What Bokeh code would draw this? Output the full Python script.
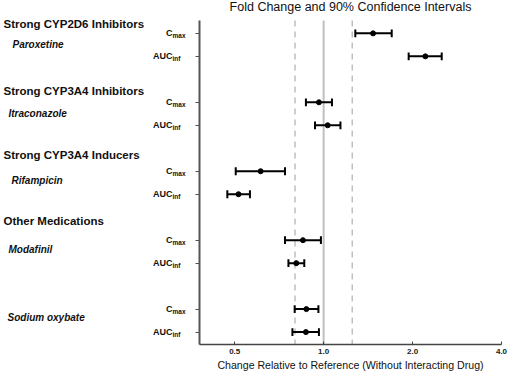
from bokeh.plotting import figure
from bokeh.layouts import row
from bokeh.models import Range1d, FixedTicker, ColumnDataSource
from bokeh.core.properties import value
from bokeh.embed import file_html
from bokeh.resources import INLINE

# ---- data ----
title = "Fold Change and 90% Confidence Intervals"
x_label = "Change Relative to Reference (Without Interacting Drug)"
groups = ["Strong CYP2D6 Inhibitors", "Strong CYP3A4 Inhibitors",
          "Strong CYP3A4 Inducers", "Other Medications"]
group_drugs = [["Paroxetine"], ["Itraconazole"], ["Rifampicin"],
               ["Modafinil", "Sodium oxybate"]]
param_main = ["C", "AUC"]
param_sub = ["max", "inf"]
ratio = [1.47, 2.21, 0.964, 1.032, 0.612, 0.515, 0.851, 0.808, 0.874, 0.871]
ci_low = [1.28, 1.94, 0.871, 0.935, 0.504, 0.472, 0.740, 0.760, 0.798, 0.784]
ci_high = [1.70, 2.51, 1.067, 1.140, 0.740, 0.563, 0.979, 0.860, 0.960, 0.964]
x_ticks = [0.5, 1.0, 2.0, 4.0]
x_tick_labels = ["0.5", "1.0", "2.0", "4.0"]
reference_line = 1.0
bounds = [0.8, 1.25]

FONT = "Liberation Sans"
TXT = "#111111"

# row positions: two rows per drug, one blank row between drugs
drugs = [d for g in group_drugs for d in g]
rows = []
for i, d in enumerate(drugs):
    rows += [i * 3, i * 3 + 1]

# ---------------- main plot ----------------
W_LEFT = 189
H = 375
TOP, BOTTOM = 20, 31            # axis area starts 20px below the top
y0, y1 = -0.56, 13.54           # row-unit extent of the drawn axis
ppu = (H - TOP - BOTTOM) / (y1 - y0)
y_top_ext = y0 - TOP / ppu      # frame reaches the top so the title fits
x_lo, x_hi = 0.38, 4.0

p = figure(width=510 - W_LEFT, height=H, output_backend="svg",
           toolbar_location=None, x_axis_type="log",
           x_range=Range1d(x_lo, x_hi), y_range=Range1d(y1, y_top_ext),
           min_border_left=10, min_border_right=9, min_border_top=0,
           min_border_bottom=BOTTOM)
p.frame_align = False
p.outline_line_color = None
p.xgrid.visible = False
p.ygrid.visible = False

p.xaxis.ticker = FixedTicker(ticks=x_ticks)
p.xaxis.major_label_overrides = {t: l for t, l in zip(x_ticks, x_tick_labels)}
p.xaxis.major_label_text_font = FONT
p.xaxis.major_label_text_font_style = "bold"
p.xaxis.major_label_text_font_size = "8px"
p.xaxis.major_label_text_color = "#222222"
p.xaxis.major_label_standoff = 4
p.xaxis.axis_label = x_label
p.xaxis.axis_label_text_font = FONT
p.xaxis.axis_label_text_font_style = "normal"
p.xaxis.axis_label_text_font_size = "10.6px"
p.xaxis.axis_label_text_color = TXT
p.xaxis.axis_label_standoff = 2
p.xaxis.axis_line_color = "#444444"
p.xaxis.axis_line_width = 1.5
p.xaxis.major_tick_line_color = "#444444"
p.xaxis.major_tick_in = 3
p.xaxis.major_tick_out = 0
p.xaxis.minor_tick_line_color = None

p.yaxis.ticker = FixedTicker(ticks=rows)
p.yaxis.bounds = (y0, y1)
p.yaxis.major_label_overrides = {r: "" for r in rows}
p.yaxis.major_label_text_font_size = "1px"
p.yaxis.major_label_standoff = 0
p.yaxis.axis_line_color = "#555555"
p.yaxis.axis_line_width = 2
p.yaxis.major_tick_line_color = "#555555"
p.yaxis.major_tick_in = 0
p.yaxis.major_tick_out = 4
p.yaxis.minor_tick_line_color = None

# reference lines (only over the axis extent)
p.segment(x0=[reference_line], x1=[reference_line], y0=[y0], y1=[y1],
          line_color="#bfbfbf", line_width=2)
p.segment(x0=bounds, x1=bounds, y0=[y0] * len(bounds), y1=[y1] * len(bounds),
          line_color="#bfbfbf", line_width=1.5, line_dash="6 5")

src = ColumnDataSource(dict(y=rows, r=ratio, lo=ci_low, hi=ci_high,
                            ytop=[r - 0.17 for r in rows],
                            ybot=[r + 0.17 for r in rows]))
p.segment(x0="lo", x1="hi", y0="y", y1="y", source=src, line_color="black",
          line_width=2)
p.segment(x0="lo", x1="lo", y0="ytop", y1="ybot", source=src,
          line_color="black", line_width=2)
p.segment(x0="hi", x1="hi", y0="ytop", y1="ybot", source=src,
          line_color="black", line_width=2)
p.scatter(x="r", y="y", source=src, size=5, color="black")

# title, centred over the axis area
p.text(x=[(x_lo * x_hi) ** 0.5], y=[y0 - 13.3 / ppu], text=[title],
       text_font=value(FONT), text_font_size="12.5px", text_align="center",
       text_baseline="middle", text_color=TXT)

# ---------------- left label panel (same row scale) ----------------
ly_top = y0 - TOP / ppu
ly_bot = y1 + BOTTOM / ppu
L = figure(width=W_LEFT, height=H, output_backend="svg", toolbar_location=None,
           x_range=Range1d(0, W_LEFT), y_range=Range1d(ly_bot, ly_top),
           x_axis_location=None, y_axis_location=None, min_border=0)
L.frame_align = False
L.outline_line_color = None
L.xgrid.visible = False
L.ygrid.visible = False

# parameter labels with subscripts
mains, subs, py = [], [], []
for i, d in enumerate(drugs):
    for j in range(2):
        mains.append(param_main[j])
        subs.append(param_sub[j])
        py.append(i * 3 + j)
L.text(x=[172] * len(py), y=py, text=mains, text_font=value(FONT),
       text_font_style="bold", text_font_size="9px", text_align="right",
       text_baseline="middle", text_color=TXT)
L.text(x=[172] * len(py), y=py, text=subs, text_font=value(FONT),
       text_font_style="bold", text_font_size="6.5px", text_align="left",
       text_baseline="middle", text_color=TXT, y_offset=2)

# group headers and drug names
header_off = [-0.41, -0.48, -0.72, -0.83]
drug_x = [12, 8, 11, 8, 7]
drug_off = [0.48, 0.48, 0.39, 0.41, 0.37]
hx, hy, dx, dy = [], [], [], []
di = 0
for g, dl in enumerate(group_drugs):
    hx.append(3)
    hy.append(di * 3 + header_off[g])
    for d in dl:
        dx.append(drug_x[di])
        dy.append(di * 3 + drug_off[di])
        di += 1
L.text(x=hx, y=hy, text=groups, text_font=value(FONT), text_font_style="bold",
       text_font_size="11.5px", text_baseline="middle", text_color=TXT)
L.text(x=dx, y=dy, text=drugs, text_font=value(FONT),
       text_font_style="bold italic", text_font_size="10px",
       text_baseline="middle", text_color=TXT)

layout = row(L, p, spacing=0)
open("out.html", "w").write(file_html(layout, INLINE))
